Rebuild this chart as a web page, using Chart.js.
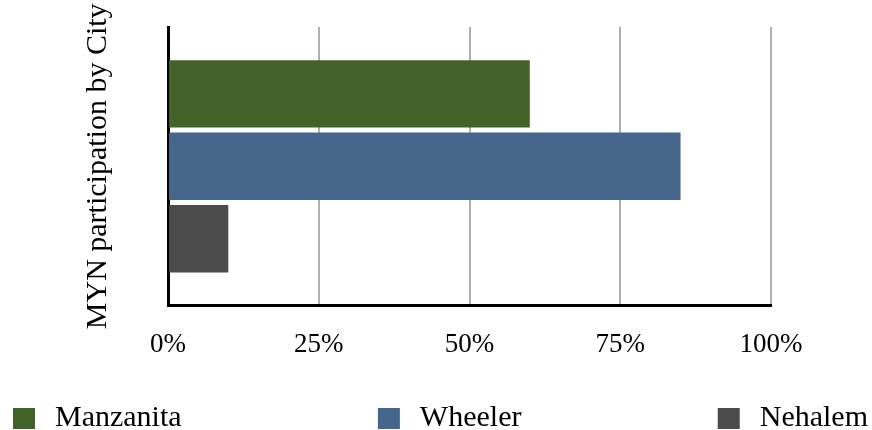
<!DOCTYPE html>
<html>
<head>
<meta charset="utf-8">
<script src="https://cdn.jsdelivr.net/npm/chart.js@4"></script>
<style>
  html, body { margin: 0; padding: 0; background: #fff; }
  #wrap { width: 872px; height: 430px; }
</style>
</head>
<body>
<div id="wrap"><canvas id="myChart"></canvas></div>
<script>
// data
const categories = [""];
const cities = ["Manzanita", "Wheeler", "Nehalem"];
const participation = [60, 85, 10];
const cityColors = ["#426327", "#46668c", "#4b4b4b"];
const xTicks = [0, 25, 50, 75, 100];

const serif = "'Liberation Serif', 'Times New Roman', serif";

// legend spread across the full width, like the original
const spreadLegend = {
  id: "spreadLegend",
  afterDraw(chart) {
    const ctx = chart.ctx;
    const box = 22, gap = 20;
    const left = 13, right = 868, y = 418;
    ctx.save();
    ctx.font = "30px " + serif;
    const items = chart.data.datasets.map(ds => {
      const w = box + gap + ctx.measureText(ds.label).width;
      return { label: ds.label, color: ds.backgroundColor, w };
    });
    const total = items.reduce((s, it) => s + it.w, 0);
    const space = (right - left - total) / (items.length - 1);
    let x = left;
    items.forEach(it => {
      ctx.fillStyle = it.color;
      ctx.fillRect(x, y - 10, box, 21);
      ctx.fillStyle = "#000";
      ctx.textBaseline = "middle";
      ctx.fillText(it.label, x + box + gap, y);
      x += it.w + space;
    });
    ctx.restore();
  }
};

new Chart(document.getElementById("myChart").getContext("2d"), {
  type: "bar",
  data: {
    labels: categories,
    datasets: cities.map((c, i) => ({
      label: c,
      data: [participation[i]],
      backgroundColor: cityColors[i],
      borderWidth: 0,
      categoryPercentage: 0.78,
      barPercentage: 0.93
    }))
  },
  options: {
    indexAxis: "y",
    responsive: true,
    maintainAspectRatio: false,
    animation: false,
    layout: { padding: { left: 80, right: 101, top: 27, bottom: 46 } },
    plugins: {
      legend: { display: false },
      tooltip: { enabled: false }
    },
    scales: {
      x: {
        min: 0,
        max: 100,
        afterBuildTicks: axis => { axis.ticks = xTicks.map(v => ({ value: v })); },
        ticks: {
          color: "#000",
          padding: 23,
          font: { family: serif, size: 27 },
          callback: v => v + "%"
        },
        grid: { color: "#b0b0b0", lineWidth: 2, drawTicks: false },
        border: { color: "#000", width: 3 }
      },
      y: {
        z: 1,
        ticks: { display: false },
        grid: { display: false, drawTicks: false },
        border: { color: "#000", width: 3 },
        title: {
          display: true,
          text: "MYN participation by City",
          color: "#000",
          font: { family: serif, size: 30 },
          padding: { top: 0, bottom: 52 }
        }
      }
    }
  },
  plugins: [spreadLegend]
});
</script>
</body>
</html>
